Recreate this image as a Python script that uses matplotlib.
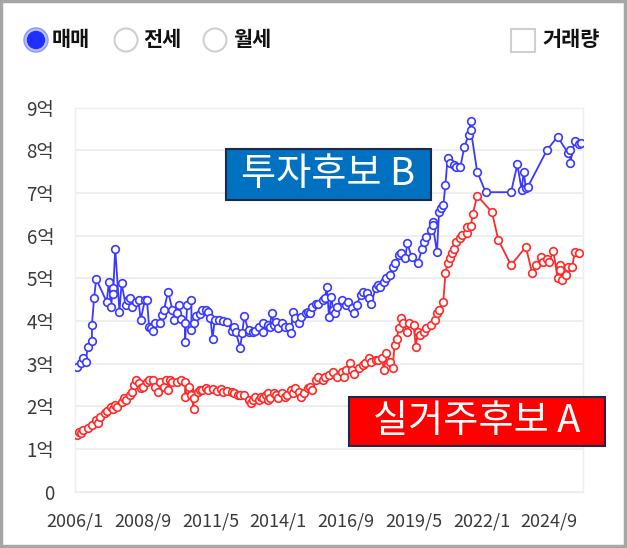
import matplotlib
matplotlib.use("Agg")
import matplotlib.pyplot as plt
from matplotlib.patches import Circle, Rectangle

plt.rcParams['font.family'] = ['Noto Sans CJK KR', 'DejaVu Sans']

# months since 2006/1
blue_months = [1, 3, 4, 5, 6, 8, 8, 9, 10, 15, 16, 17, 18, 18, 19, 21, 22, 24, 25, 26, 27, 29, 30, 31,
               33, 34, 35, 36, 37, 38, 40, 41, 42, 44, 46, 47, 48, 49, 50, 52, 52, 53, 55, 55, 56, 57, 59, 60,
               62, 63, 64, 65, 66, 68, 70, 72, 74, 75, 76, 78, 79, 80, 82, 82, 84, 85, 87, 89, 89, 91,
               92, 93, 94, 95, 96, 98, 99, 101, 102, 103, 104, 106, 107, 109, 110, 111, 112, 114, 115, 117,
               118, 119, 120, 121, 122, 123, 124, 126, 128, 129, 131, 132, 133, 135, 136, 138, 139, 140, 142,
               143, 144, 146, 147, 149, 150, 151, 153, 154, 156, 157, 159, 162, 164, 165, 166, 168, 169, 169,
               171, 172, 173, 174, 175, 176, 177, 179, 180, 182, 184, 186, 187, 187, 190, 194, 206, 209, 211,
               212, 213, 214, 223, 228, 233, 234, 234, 236, 238, 239]
blue_values = [2.92, 3.01, 3.13, 3.03, 3.38, 3.53, 3.91, 4.53, 4.98, 4.45, 4.92, 4.34, 4.77, 4.63, 5.70, 4.22,
               4.88, 4.37, 4.49, 4.55, 4.34, 4.45, 4.49, 4.02,
               4.49, 4.49, 3.87, 3.83, 3.77, 3.95, 3.96, 4.14, 4.26, 4.69, 4.26, 4.02, 4.18, 4.37, 4.04, 3.95,
               3.52, 4.37, 4.49, 3.79, 3.95, 4.12, 4.16, 4.27,
               4.26, 4.22, 4.06, 3.59, 4.02, 4.02, 4.01, 3.98, 3.77, 3.87, 3.75, 3.36, 3.72, 4.12, 3.75, 3.79,
               3.75, 3.77, 3.87, 3.96, 3.75, 3.91,
               3.87, 4.18, 3.91, 3.98, 3.83, 3.95, 3.87, 3.87, 3.71, 4.22, 4.06, 3.95, 4.10, 4.18, 4.22, 4.18,
               4.34, 4.41, 4.41, 4.49,
               4.53, 4.80, 4.10, 4.57, 4.26, 4.18, 4.34, 4.49, 4.37, 4.45, 4.30, 4.18, 4.37, 4.61, 4.69, 4.65,
               4.53, 4.41, 4.77,
               4.84, 4.80, 4.92, 5.00, 5.08, 5.27, 5.35, 5.55, 5.59, 5.47, 5.82, 5.51, 5.35, 5.70, 5.86, 5.98,
               6.13, 6.33, 6.25,
               5.62, 6.56, 6.66, 6.72, 7.19, 7.81, 7.70, 7.66, 7.62, 7.60, 8.09, 8.36, 8.69, 8.48, 7.50, 7.02,
               7.02, 7.67, 7.07,
               7.50, 7.11, 7.15, 8.01, 8.32, 7.93, 8.01, 7.71, 8.22, 8.14, 8.17]

red_months = [1, 2, 3, 4, 6, 8, 10, 11, 12, 14, 15, 17, 18, 19, 20, 22, 23, 24, 26, 27, 28, 29,
              30, 31, 32, 34, 35, 37, 38, 39, 40, 42, 43, 44, 45, 46, 48, 50, 52, 52, 54, 54, 55, 56, 56,
              58, 59, 60, 62, 63, 65, 67, 69, 70, 72, 74, 75, 77, 78, 80, 82, 83, 84, 85, 87, 88, 89, 90,
              91, 91, 92, 94, 95, 96, 98, 99, 100, 102, 103, 104, 106, 107, 108, 110, 111, 112, 114, 115,
              117, 118, 120, 122, 124, 126, 127, 128, 130, 131, 132, 134, 136, 137, 139, 140, 142, 143,
              145, 146, 147, 149, 150, 151, 152, 153, 154, 155, 157, 158, 160, 161, 162, 163, 165, 166,
              168, 170, 171, 172, 174, 175, 176, 177, 178, 179, 180, 182, 183, 185, 185, 187, 188, 190,
              197, 200, 206, 213, 216, 218, 220, 221, 223, 224, 226, 228, 229, 229, 230, 232, 233, 235,
              236, 238]
red_values = [1.33, 1.41, 1.37, 1.45, 1.49, 1.56, 1.68, 1.60, 1.76, 1.84, 1.89, 1.99, 1.95, 2.03, 1.99,
              2.11, 2.19, 2.15, 2.27, 2.34, 2.50, 2.62,
              2.54, 2.42, 2.46, 2.58, 2.62, 2.62, 2.46, 2.34, 2.58, 2.46, 2.62, 2.38, 2.62, 2.58, 2.58,
              2.62, 2.58, 2.23, 2.38, 2.46, 2.27, 1.95, 2.19,
              2.34, 2.38, 2.38, 2.42, 2.38, 2.40, 2.36, 2.40, 2.34, 2.36, 2.34, 2.32, 2.27, 2.27, 2.27,
              2.15, 2.07, 2.15, 2.21, 2.15, 2.23, 2.19, 2.27,
              2.15, 2.31, 2.19, 2.31, 2.27, 2.19, 2.31, 2.23, 2.27, 2.38, 2.31, 2.42, 2.34, 2.23, 2.31,
              2.42, 2.46, 2.38, 2.62, 2.70,
              2.62, 2.70, 2.73, 2.81, 2.70, 2.81, 2.70, 2.85, 3.01, 2.85, 2.77, 2.89, 2.97, 3.01, 3.13,
              3.05, 3.09, 3.09,
              3.13, 2.85, 3.24, 3.05, 2.89, 3.44, 3.59, 3.83, 4.06, 3.95, 3.75, 3.95, 3.91, 3.40, 3.75,
              3.67, 3.75, 3.83,
              3.91, 4.02, 4.18, 4.26, 4.45, 5.12, 5.35, 5.47, 5.59, 5.70, 5.86, 5.94, 6.02, 6.06, 6.21,
              6.23, 6.52, 6.94,
              6.55, 5.90, 5.31, 5.74, 5.12, 5.31, 5.51, 5.39, 5.45, 5.39, 5.64, 5.00, 5.31, 5.20, 4.96,
              5.08, 5.27, 5.27,
              5.62, 5.59]

tick_months = [0, 32, 64, 96, 128, 160, 192, 224]
tick_labels = ['2006/1', '2008/9', '2011/5', '2014/1', '2016/9', '2019/5', '2022/1', '2024/9']
y_ticks = [0, 1, 2, 3, 4, 5, 6, 7, 8, 9]
y_labels = ['0', '1억', '2억', '3억', '4억', '5억', '6억', '7억', '8억', '9억']

radio_labels = ['매매', '전세', '월세']
check_label = '거래량'
label_b = '투자후보 B'
label_a = '실거주후보 A'

W, H = 627, 548
fig = plt.figure(figsize=(W / 100, H / 100), dpi=100)
fig.patch.set_facecolor('white')

ax = fig.add_axes([75 / W, 1 - 491.7 / H, (583 - 75) / W, (491.7 - 107.7) / H])
ax.set_xlim(0, 240)
ax.set_ylim(0, 9)
ax.set_yticks(y_ticks)
ax.set_yticklabels(y_labels)
ax.set_xticks(tick_months)
ax.set_xticklabels(tick_labels)
ax.tick_params(axis='y', length=0, colors='#3a3a3a', labelsize=13.5, pad=15)
ax.tick_params(axis='x', length=0, colors='#3a3a3a', labelsize=13, pad=15)
ax.grid(axis='y', color='#ebebeb', linewidth=1.2)
ax.set_axisbelow(True)
for s in ax.spines.values():
    s.set_color('#eeeeee')
    s.set_linewidth(1.0)

ax.plot(blue_months, blue_values, color='#3a3aff', linewidth=1.3, marker='o', markersize=5.5,
        markerfacecolor='white', markeredgecolor='#3a3aff', markeredgewidth=1.2, zorder=3)
ax.plot(red_months, red_values, color='#ff2a2a', linewidth=1.3, marker='o', markersize=5.5,
        markerfacecolor='white', markeredgecolor='#ff2a2a', markeredgewidth=1.2, zorder=3)

# overlay in pixel coordinates
ov = fig.add_axes([0, 0, 1, 1], zorder=5)
ov.set_xlim(0, W)
ov.set_ylim(H, 0)
ov.axis('off')
ov.patch.set_alpha(0)

# outer border
ov.add_patch(Rectangle((1, 1), W - 3, H - 3, fill=False, edgecolor='#a6a6a6', linewidth=2.5))

# radio buttons
ov.add_patch(Circle((36, 40), 12, facecolor='#b8c0ff', edgecolor='#8a96ff', linewidth=1))
ov.add_patch(Circle((36, 40), 8.5, facecolor='#1f2fff', edgecolor='#1f2fff'))
ov.text(52, 40, radio_labels[0], fontsize=15, fontweight='bold', va='center', ha='left', color='#111111')
for cx, tx, lab in [(126, 143, radio_labels[1]), (215, 233, radio_labels[2])]:
    ov.add_patch(Circle((cx, 40), 11.5, facecolor='white', edgecolor='#d0d0d0', linewidth=1.5))
    ov.text(tx, 40, lab, fontsize=15, fontweight='bold', va='center', ha='left', color='#111111')
ov.add_patch(Rectangle((511, 29), 24, 23, facecolor='white', edgecolor='#cfcfcf', linewidth=1.5))
ov.text(542, 40, check_label, fontsize=15, fontweight='bold', va='center', ha='left', color='#111111')

# annotation boxes
ov.add_patch(Rectangle((226, 149), 205, 51, facecolor='#0070c0', edgecolor='#1c2a4a', linewidth=1.5))
ov.text(328.5, 175, label_b, fontsize=27.5, color='white', ha='center', va='center')
ov.add_patch(Rectangle((349, 397), 256, 49, facecolor='#ff0000', edgecolor='#1c2a4a', linewidth=1.5))
ov.text(477, 421.5, label_a, fontsize=27.5, color='white', ha='center', va='center')

fig.savefig('out.png', dpi=100)
